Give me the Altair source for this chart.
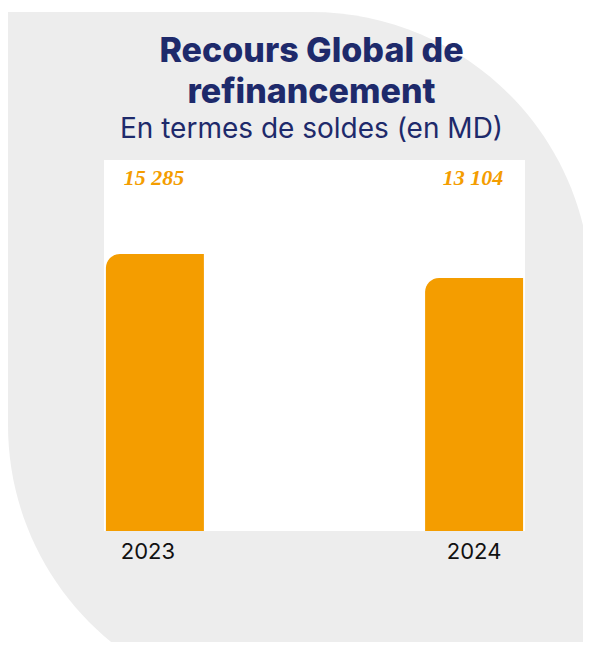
import altair as alt
import pandas as pd

# ---- data ----
years = ["2023", "2024"]
values = [15285, 13104]
value_labels = ["15 285", "13 104"]
title_lines = ["Recours Global de", "refinancement"]
subtitle_text = "En termes de soldes (en MD)"
y_domain = [-9888, 23828]

# ---- styling ----
W, H = 421, 371
PAD = {"left": 96, "top": 152, "right": 58, "bottom": 111}
NAVY = "#1E2A6B"
ORANGE = "#F49D00"
GRAY = "#EDEDED"

df = pd.DataFrame({"year": years, "value": values, "label": value_labels})
one = pd.DataFrame({"k": [0]})

gray = alt.Chart(one).mark_rect(
    color=GRAY, cornerRadiusTopRight=280, cornerRadiusBottomLeft=280
).encode(x=alt.value(-96), x2=alt.value(487), y=alt.value(-148), y2=alt.value(545))

white = alt.Chart(one).mark_rect(color="white").encode(
    x=alt.value(0), x2=alt.value(W), y=alt.value(0), y2=alt.value(H)
)

xenc = alt.X(
    "year:N",
    sort=years,
    scale=alt.Scale(paddingInner=0.693, paddingOuter=0.006),
    axis=alt.Axis(
        title=None, labelAngle=0, ticks=False, domain=False, grid=False,
        labelFont="Inter", labelFontSize=22, labelColor="#111111", labelPadding=10,
        labelOffset={"condition": {"test": "datum.value === '2023'", "value": -7}, "value": 0},
        zindex=2,
    ),
)

bars = alt.Chart(df).mark_bar(color=ORANGE, cornerRadiusTopLeft=14).encode(
    x=xenc,
    y=alt.Y("value:Q", scale=alt.Scale(domain=y_domain, nice=False, zero=False), axis=None),
    y2=alt.datum(y_domain[0]),
)

labels = alt.Chart(df).mark_text(
    font="Liberation Serif", fontStyle="italic", fontWeight="bold",
    fontSize=22, color=ORANGE, baseline="alphabetic", dx=-1,
).encode(
    x=alt.X("year:N", sort=years),
    y=alt.value(25),
    text="label:N",
)

chart = alt.layer(gray, white, bars, labels).properties(
    width=W,
    height=H,
    padding=PAD,
    autosize="none",
    background="white",
    title=alt.TitleParams(
        text=title_lines,
        subtitle=subtitle_text,
        anchor="middle",
        frame="group",
        font="Inter",
        fontSize=34,
        fontWeight=800,
        color=NAVY,
        lineHeight=41,
        subtitleFont="Inter",
        subtitleFontSize=28,
        subtitleColor=NAVY,
        subtitlePadding=6,
        offset=-132,
        dx=-3,
        zindex=2,
    ),
).configure_view(strokeWidth=0)

chart.save("out.html", embed_options={"renderer": "svg", "actions": False})
